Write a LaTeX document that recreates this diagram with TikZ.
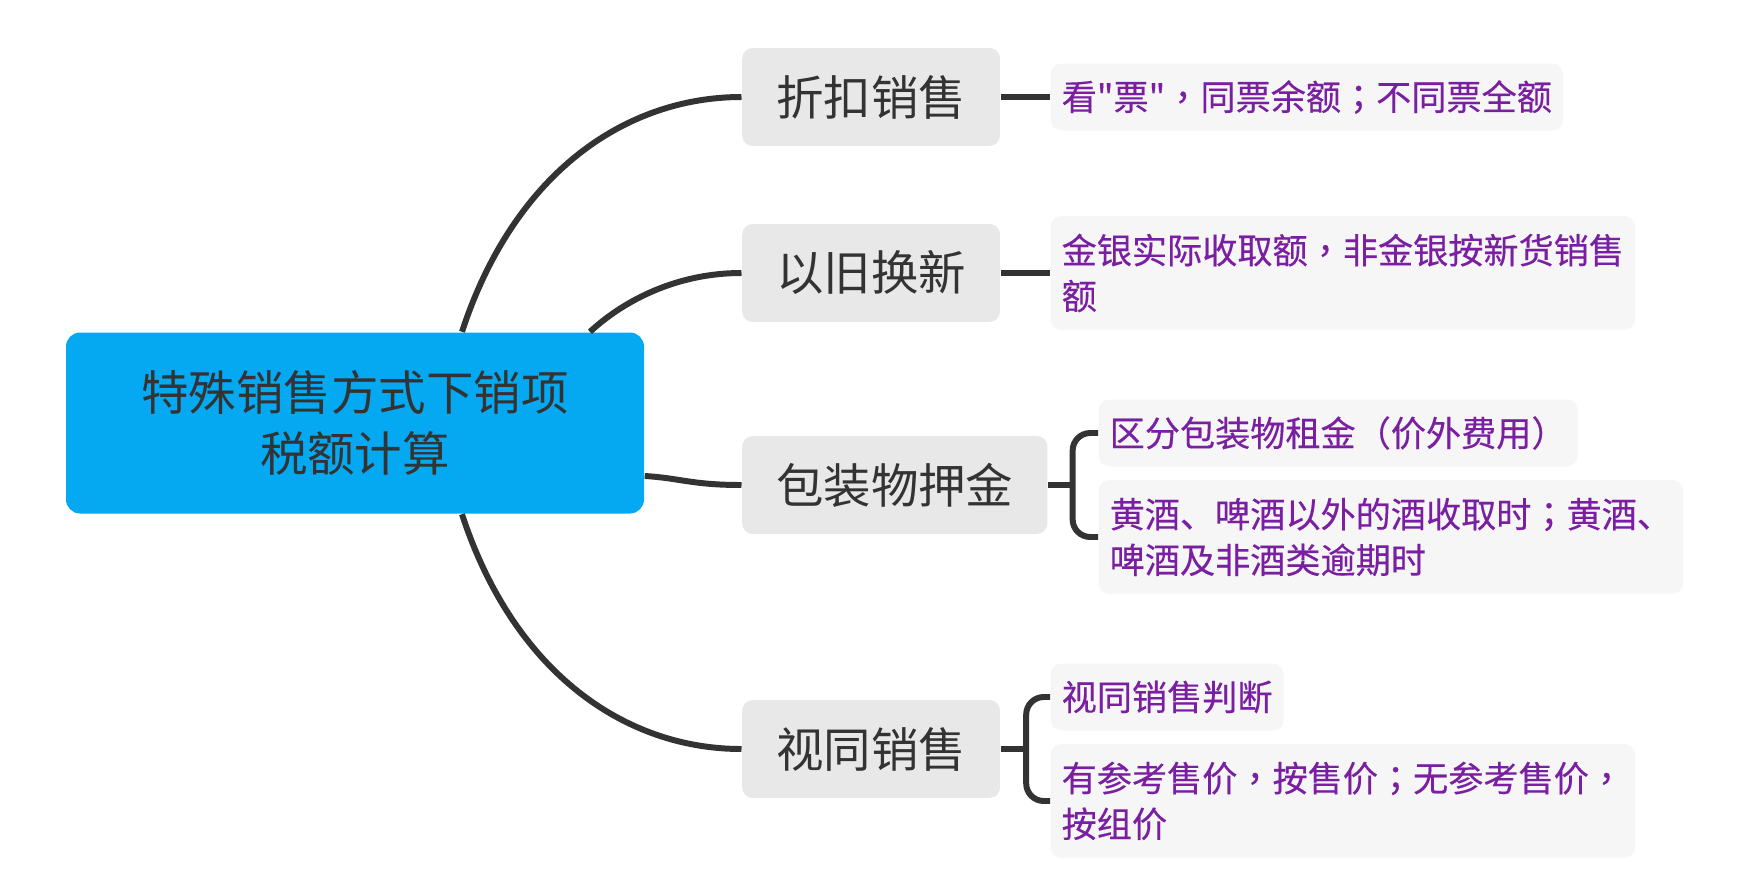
\documentclass[tikz,border=0pt]{standalone}
\usepackage{fontspec}
\setmainfont{Noto Sans CJK SC}[Ligatures=TeXOff]
\newfontfamily\leaffont{Noto Sans CJK SC}[Ligatures=TeXOff, FakeBold=0.3]
\newfontfamily\punctfont{Noto Sans CJK TC}[Ligatures=TeXOff, FakeBold=0.3]
\newcommand{\pc}[1]{{\punctfont #1}}
\usepackage{xcolor}
\definecolor{rootblue}{RGB}{5, 169, 242}
\definecolor{topicgray}{RGB}{232, 232, 232}
\definecolor{leafgray}{RGB}{246, 246, 246}
\definecolor{leafpurple}{RGB}{122, 31, 162}
\definecolor{darktext}{RGB}{51, 51, 51}
\usepackage{tikz}
\usetikzlibrary{calc}

\tikzset{
  rootbox/.style={fill=rootblue, rounded corners=4pt, minimum width=5.78cm, minimum height=1.81cm,
    align=center, text=darktext, font=\fontsize{13.5}{17.5}\selectfont},
  topicbox/.style={fill=topicgray, rounded corners=3pt, anchor=west, inner xsep=0.34cm,
    minimum height=0.98cm, text=darktext, font=\fontsize{13.5}{16}\selectfont},
  leafbox/.style={fill=leafgray, rounded corners=3pt, anchor=west, align=left, inner xsep=0.11cm,
    inner ysep=0pt, text=leafpurple, font=\leaffont\fontsize{10}{13}\selectfont},
  oneline/.style={leafbox, minimum height=0.67cm},
  twoline/.style={leafbox, minimum height=1.14cm},
  link/.style={draw=darktext, line width=1.7pt},
}

\begin{document}
\begin{tikzpicture}
    \useasboundingbox (0,0) rectangle (17.51,-8.77);
    % === Root ===
    \node[rootbox] (root) at (3.55,-4.23) {特殊销售方式下销项\\税额计算};

    % === Main topics ===
    \node[topicbox] (zhekou) at (7.415,-0.97) {折扣销售};
    \node[topicbox] (yijiu) at (7.415,-2.73) {以旧换新};
    \node[topicbox] (yajin) at (7.415,-4.85) {包装物押金};
    \node[topicbox] (shitong) at (7.415,-7.49) {视同销售};

    % === Notes ===
    \node[oneline] (zhekouA) at (10.50,-0.97) {看"票"\pc{，}同票余额\pc{；}不同票全额};
    \node[twoline] (yijiuA) at (10.50,-2.73) {金银实际收取额\pc{，}非金银按新货销售\\额};
    \node[oneline] (yajinA) at (10.98,-4.33) {区分包装物租金\pc{（}价外费用\pc{）}};
    \node[twoline] (yajinB) at (10.98,-5.37) {黄酒、啤酒以外的酒收取时\pc{；}黄酒、\\啤酒及非酒类逾期时};
    \node[oneline] (shitongA) at (10.50,-6.97) {视同销售判断};
    \node[twoline] (shitongB) at (10.50,-8.01) {有参考售价\pc{，}按售价\pc{；}无参考售价\pc{，}\\按组价};

    % Curves from root
    \draw[link] ([xshift=1.07cm]root.north) .. controls +(0.52,1.59) and +(-1.16,0) .. (zhekou.west);
    \draw[link] ([xshift=2.35cm]root.north) .. controls +(0.29,0.27) and +(-0.70,0) .. (yijiu.west);
    \draw[link] ([yshift=-0.53cm]root.east) .. controls +(0.35,-0.02) and +(-0.5,0) .. (yajin.west);
    \draw[link] ([xshift=1.07cm]root.south) .. controls +(0.52,-1.59) and +(-1.16,0) .. (shitong.west);

    % Straight links
    \draw[link] (zhekou.east) -- (zhekouA.west);
    \draw[link] (yijiu.east) -- (yijiuA.west);

    % Brackets
    \coordinate (k3) at ([xshift=0.245cm]yajin.east);
    \draw[link] (yajin.east) -- (k3);
    \draw[link, rounded corners=5pt] (yajinA.west) -| (k3) |- (yajinB.west);
    \coordinate (k4) at ([xshift=0.255cm]shitong.east);
    \draw[link] (shitong.east) -- (k4);
    \draw[link, rounded corners=5pt] (shitongA.west) -| (k4) |- (shitongB.west);
\end{tikzpicture}
\end{document}
